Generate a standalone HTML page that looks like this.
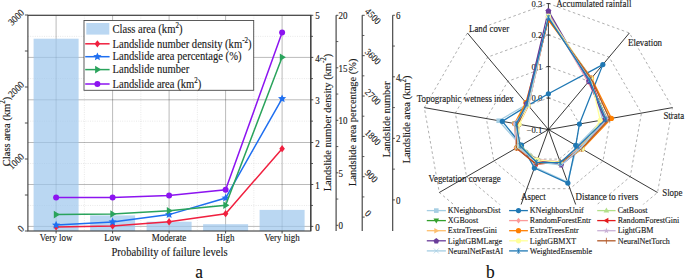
<!DOCTYPE html>
<html><head><meta charset="utf-8"><style>
html,body{margin:0;padding:0;background:#fff;}
body{width:685px;height:278px;overflow:hidden;}
svg{display:block;font-family:"Liberation Serif", serif;}
</style></head><body>
<svg width="685" height="278" viewBox="0 0 685 278">
<rect x="0" y="0" width="685" height="278" fill="#fff"/>
<line x1="27.9" y1="226.40" x2="310.8" y2="226.40" stroke="rgba(0,0,0,0.27)" stroke-width="1"/>
<line x1="27.9" y1="184.50" x2="310.8" y2="184.50" stroke="rgba(0,0,0,0.27)" stroke-width="1"/>
<line x1="27.9" y1="142.50" x2="310.8" y2="142.50" stroke="rgba(0,0,0,0.27)" stroke-width="1"/>
<line x1="27.9" y1="99.80" x2="310.8" y2="99.80" stroke="rgba(0,0,0,0.27)" stroke-width="1"/>
<line x1="27.9" y1="57.40" x2="310.8" y2="57.40" stroke="rgba(0,0,0,0.27)" stroke-width="1"/>
<line x1="27.9" y1="15.30" x2="310.8" y2="15.30" stroke="rgba(0,0,0,0.27)" stroke-width="1"/>
<line x1="27.9" y1="205.45" x2="310.8" y2="205.45" stroke="rgba(0,0,0,0.12)" stroke-width="0.8" stroke-dasharray="1 1.3"/>
<line x1="27.9" y1="163.50" x2="310.8" y2="163.50" stroke="rgba(0,0,0,0.12)" stroke-width="0.8" stroke-dasharray="1 1.3"/>
<line x1="27.9" y1="121.15" x2="310.8" y2="121.15" stroke="rgba(0,0,0,0.12)" stroke-width="0.8" stroke-dasharray="1 1.3"/>
<line x1="27.9" y1="78.60" x2="310.8" y2="78.60" stroke="rgba(0,0,0,0.12)" stroke-width="0.8" stroke-dasharray="1 1.3"/>
<line x1="27.9" y1="36.35" x2="310.8" y2="36.35" stroke="rgba(0,0,0,0.12)" stroke-width="0.8" stroke-dasharray="1 1.3"/>
<line x1="56.1" y1="15.3" x2="56.1" y2="231.0" stroke="rgba(0,0,0,0.27)" stroke-width="1"/>
<line x1="112.6" y1="15.3" x2="112.6" y2="231.0" stroke="rgba(0,0,0,0.27)" stroke-width="1"/>
<line x1="169.1" y1="15.3" x2="169.1" y2="231.0" stroke="rgba(0,0,0,0.27)" stroke-width="1"/>
<line x1="225.6" y1="15.3" x2="225.6" y2="231.0" stroke="rgba(0,0,0,0.27)" stroke-width="1"/>
<line x1="282.1" y1="15.3" x2="282.1" y2="231.0" stroke="rgba(0,0,0,0.27)" stroke-width="1"/>
<line x1="84.35" y1="15.3" x2="84.35" y2="231.0" stroke="rgba(0,0,0,0.12)" stroke-width="0.8" stroke-dasharray="1 1.3"/>
<line x1="140.85" y1="15.3" x2="140.85" y2="231.0" stroke="rgba(0,0,0,0.12)" stroke-width="0.8" stroke-dasharray="1 1.3"/>
<line x1="197.35" y1="15.3" x2="197.35" y2="231.0" stroke="rgba(0,0,0,0.12)" stroke-width="0.8" stroke-dasharray="1 1.3"/>
<line x1="253.85" y1="15.3" x2="253.85" y2="231.0" stroke="rgba(0,0,0,0.12)" stroke-width="0.8" stroke-dasharray="1 1.3"/>
<rect x="33.60" y="38.7" width="45" height="192.30" fill="rgb(156,198,236)" fill-opacity="0.7"/>
<rect x="90.10" y="215.4" width="45" height="15.60" fill="rgb(156,198,236)" fill-opacity="0.7"/>
<rect x="146.60" y="221.7" width="45" height="9.30" fill="rgb(156,198,236)" fill-opacity="0.7"/>
<rect x="203.10" y="224.2" width="45" height="6.80" fill="rgb(156,198,236)" fill-opacity="0.7"/>
<rect x="259.60" y="209.9" width="45" height="21.10" fill="rgb(156,198,236)" fill-opacity="0.7"/>
<polyline points="56.10,227.00 112.60,225.90 169.10,221.80 225.60,213.70 282.10,148.70" fill="none" stroke="#f0203f" stroke-width="1.5"/>
<polygon points="56.10,223.40 58.91,227.00 56.10,230.60 53.29,227.00" fill="#f0203f"/>
<polygon points="112.60,222.30 115.41,225.90 112.60,229.50 109.79,225.90" fill="#f0203f"/>
<polygon points="169.10,218.20 171.91,221.80 169.10,225.40 166.29,221.80" fill="#f0203f"/>
<polygon points="225.60,210.10 228.41,213.70 225.60,217.30 222.79,213.70" fill="#f0203f"/>
<polygon points="282.10,145.10 284.91,148.70 282.10,152.30 279.29,148.70" fill="#f0203f"/>
<polyline points="56.10,225.10 112.60,221.90 169.10,214.60 225.60,198.00 282.10,98.70" fill="none" stroke="#1f6ff0" stroke-width="1.5"/>
<polygon points="56.10,220.80 57.28,223.48 60.19,223.77 58.00,225.72 58.63,228.58 56.10,227.10 53.57,228.58 54.20,225.72 52.01,223.77 54.92,223.48" fill="#1f6ff0"/>
<polygon points="112.60,217.60 113.78,220.28 116.69,220.57 114.50,222.52 115.13,225.38 112.60,223.90 110.07,225.38 110.70,222.52 108.51,220.57 111.42,220.28" fill="#1f6ff0"/>
<polygon points="169.10,210.30 170.28,212.98 173.19,213.27 171.00,215.22 171.63,218.08 169.10,216.60 166.57,218.08 167.20,215.22 165.01,213.27 167.92,212.98" fill="#1f6ff0"/>
<polygon points="225.60,193.70 226.78,196.38 229.69,196.67 227.50,198.62 228.13,201.48 225.60,200.00 223.07,201.48 223.70,198.62 221.51,196.67 224.42,196.38" fill="#1f6ff0"/>
<polygon points="282.10,94.40 283.28,97.08 286.19,97.37 284.00,99.32 284.63,102.18 282.10,100.70 279.57,102.18 280.20,99.32 278.01,97.37 280.92,97.08" fill="#1f6ff0"/>
<polyline points="56.10,214.60 112.60,214.00 169.10,210.80 225.60,205.20 282.10,57.30" fill="none" stroke="#2aa35c" stroke-width="1.5"/>
<polygon points="53.82,210.80 59.90,214.60 53.82,218.40" fill="#2aa35c"/>
<polygon points="110.32,210.20 116.40,214.00 110.32,217.80" fill="#2aa35c"/>
<polygon points="166.82,207.00 172.90,210.80 166.82,214.60" fill="#2aa35c"/>
<polygon points="223.32,201.40 229.40,205.20 223.32,209.00" fill="#2aa35c"/>
<polygon points="279.82,53.50 285.90,57.30 279.82,61.10" fill="#2aa35c"/>
<polyline points="56.10,197.60 112.60,197.50 169.10,195.40 225.60,189.80 282.10,32.50" fill="none" stroke="#8c14f0" stroke-width="1.5"/>
<circle cx="56.10" cy="197.60" r="3.00" fill="#8c14f0"/>
<circle cx="112.60" cy="197.50" r="3.00" fill="#8c14f0"/>
<circle cx="169.10" cy="195.40" r="3.00" fill="#8c14f0"/>
<circle cx="225.60" cy="189.80" r="3.00" fill="#8c14f0"/>
<circle cx="282.10" cy="32.50" r="3.00" fill="#8c14f0"/>
<rect x="27.9" y="15.3" width="282.90" height="215.70" fill="none" stroke="#3a3a3a" stroke-width="1.1"/>
<line x1="56.1" y1="231.0" x2="56.1" y2="233.5" stroke="#3a3a3a" stroke-width="0.9"/>
<text transform="translate(56.10 240.90) scale(1 1.08)" font-size="9" text-anchor="middle" fill="#1a1a1a" stroke="#1a1a1a" stroke-width="0.12">Very low</text>
<line x1="112.6" y1="231.0" x2="112.6" y2="233.5" stroke="#3a3a3a" stroke-width="0.9"/>
<text transform="translate(112.60 240.90) scale(1 1.08)" font-size="9" text-anchor="middle" fill="#1a1a1a" stroke="#1a1a1a" stroke-width="0.12">Low</text>
<line x1="169.1" y1="231.0" x2="169.1" y2="233.5" stroke="#3a3a3a" stroke-width="0.9"/>
<text transform="translate(169.10 240.90) scale(1 1.08)" font-size="9" text-anchor="middle" fill="#1a1a1a" stroke="#1a1a1a" stroke-width="0.12">Moderate</text>
<line x1="225.6" y1="231.0" x2="225.6" y2="233.5" stroke="#3a3a3a" stroke-width="0.9"/>
<text transform="translate(225.60 240.90) scale(1 1.08)" font-size="9" text-anchor="middle" fill="#1a1a1a" stroke="#1a1a1a" stroke-width="0.12">High</text>
<line x1="282.1" y1="231.0" x2="282.1" y2="233.5" stroke="#3a3a3a" stroke-width="0.9"/>
<text transform="translate(282.10 240.90) scale(1 1.08)" font-size="9" text-anchor="middle" fill="#1a1a1a" stroke="#1a1a1a" stroke-width="0.12">Very high</text>
<text transform="translate(169.50 256.00) scale(1 1.08)" font-size="10.6" text-anchor="middle" fill="#1a1a1a" stroke="#1a1a1a" stroke-width="0.12">Probability of failure levels</text>
<text transform="translate(199.20 277.60) scale(1 1.08)" font-size="17.4" text-anchor="middle" fill="#111" stroke="#111" stroke-width="0.12">a</text>
<line x1="24.9" y1="231.0" x2="27.9" y2="231.0" stroke="#3a3a3a" stroke-width="0.9"/>
<line x1="24.9" y1="195.0" x2="27.9" y2="195.0" stroke="#3a3a3a" stroke-width="0.9"/>
<line x1="24.9" y1="159.0" x2="27.9" y2="159.0" stroke="#3a3a3a" stroke-width="0.9"/>
<line x1="24.9" y1="123.0" x2="27.9" y2="123.0" stroke="#3a3a3a" stroke-width="0.9"/>
<line x1="24.9" y1="87.0" x2="27.9" y2="87.0" stroke="#3a3a3a" stroke-width="0.9"/>
<line x1="24.9" y1="51.0" x2="27.9" y2="51.0" stroke="#3a3a3a" stroke-width="0.9"/>
<line x1="24.9" y1="15.0" x2="27.9" y2="15.0" stroke="#3a3a3a" stroke-width="0.9"/>
<text transform="translate(24.80 229.40) rotate(-45) scale(1 1.08)" font-size="9" text-anchor="end" fill="#1a1a1a" stroke="#1a1a1a" stroke-width="0.12">0</text>
<text transform="translate(24.80 157.40) rotate(-45) scale(1 1.08)" font-size="9" text-anchor="end" fill="#1a1a1a" stroke="#1a1a1a" stroke-width="0.12">1000</text>
<text transform="translate(24.80 85.40) rotate(-45) scale(1 1.08)" font-size="9" text-anchor="end" fill="#1a1a1a" stroke="#1a1a1a" stroke-width="0.12">2000</text>
<text transform="translate(24.80 13.40) rotate(-45) scale(1 1.08)" font-size="9" text-anchor="end" fill="#1a1a1a" stroke="#1a1a1a" stroke-width="0.12">3000</text>
<text transform="translate(9.50 131.50) rotate(-90) scale(1 1.08)" font-size="10.5" text-anchor="middle" fill="#1a1a1a" stroke="#1a1a1a" stroke-width="0.12">Class area (km<tspan font-size="7" dy="-4">2</tspan><tspan dy="4">)</tspan></text>
<line x1="310.8" y1="15.3" x2="310.8" y2="231.0" stroke="#3a3a3a" stroke-width="1.1"/>
<line x1="310.8" y1="226.40" x2="313.3" y2="226.40" stroke="#3a3a3a" stroke-width="0.9"/>
<line x1="310.8" y1="184.50" x2="313.3" y2="184.50" stroke="#3a3a3a" stroke-width="0.9"/>
<line x1="310.8" y1="142.50" x2="313.3" y2="142.50" stroke="#3a3a3a" stroke-width="0.9"/>
<line x1="310.8" y1="99.80" x2="313.3" y2="99.80" stroke="#3a3a3a" stroke-width="0.9"/>
<line x1="310.8" y1="57.40" x2="313.3" y2="57.40" stroke="#3a3a3a" stroke-width="0.9"/>
<line x1="310.8" y1="15.30" x2="313.3" y2="15.30" stroke="#3a3a3a" stroke-width="0.9"/>
<line x1="310.8" y1="205.45" x2="313.0" y2="205.45" stroke="#3a3a3a" stroke-width="0.8"/>
<line x1="310.8" y1="163.50" x2="313.0" y2="163.50" stroke="#3a3a3a" stroke-width="0.8"/>
<line x1="310.8" y1="121.15" x2="313.0" y2="121.15" stroke="#3a3a3a" stroke-width="0.8"/>
<line x1="310.8" y1="78.60" x2="313.0" y2="78.60" stroke="#3a3a3a" stroke-width="0.8"/>
<line x1="310.8" y1="36.35" x2="313.0" y2="36.35" stroke="#3a3a3a" stroke-width="0.8"/>
<text transform="translate(315.30 230.50) scale(1 1.08)" font-size="9" text-anchor="start" fill="#1a1a1a" stroke="#1a1a1a" stroke-width="0.12">0</text>
<text transform="translate(315.30 188.60) scale(1 1.08)" font-size="9" text-anchor="start" fill="#1a1a1a" stroke="#1a1a1a" stroke-width="0.12">1</text>
<text transform="translate(315.30 146.60) scale(1 1.08)" font-size="9" text-anchor="start" fill="#1a1a1a" stroke="#1a1a1a" stroke-width="0.12">2</text>
<text transform="translate(315.30 103.90) scale(1 1.08)" font-size="9" text-anchor="start" fill="#1a1a1a" stroke="#1a1a1a" stroke-width="0.12">3</text>
<text transform="translate(315.30 61.50) scale(1 1.08)" font-size="9" text-anchor="start" fill="#1a1a1a" stroke="#1a1a1a" stroke-width="0.12">4</text>
<text transform="translate(315.30 19.40) scale(1 1.08)" font-size="9" text-anchor="start" fill="#1a1a1a" stroke="#1a1a1a" stroke-width="0.12">5</text>
<line x1="336.1" y1="15.3" x2="336.1" y2="231.0" stroke="#3a3a3a" stroke-width="1.1"/>
<line x1="336.1" y1="225.30" x2="338.3" y2="225.30" stroke="#3a3a3a" stroke-width="0.9"/>
<line x1="336.1" y1="172.80" x2="338.3" y2="172.80" stroke="#3a3a3a" stroke-width="0.9"/>
<line x1="336.1" y1="120.30" x2="338.3" y2="120.30" stroke="#3a3a3a" stroke-width="0.9"/>
<line x1="336.1" y1="67.80" x2="338.3" y2="67.80" stroke="#3a3a3a" stroke-width="0.9"/>
<line x1="336.1" y1="15.30" x2="338.3" y2="15.30" stroke="#3a3a3a" stroke-width="0.9"/>
<line x1="336.1" y1="199.05" x2="338.3" y2="199.05" stroke="#3a3a3a" stroke-width="0.8"/>
<line x1="336.1" y1="146.55" x2="338.3" y2="146.55" stroke="#3a3a3a" stroke-width="0.8"/>
<line x1="336.1" y1="94.05" x2="338.3" y2="94.05" stroke="#3a3a3a" stroke-width="0.8"/>
<line x1="336.1" y1="41.55" x2="338.3" y2="41.55" stroke="#3a3a3a" stroke-width="0.8"/>
<text transform="translate(338.50 229.40) scale(1 1.08)" font-size="9" text-anchor="start" fill="#1a1a1a" stroke="#1a1a1a" stroke-width="0.12">0</text>
<text transform="translate(338.50 176.90) scale(1 1.08)" font-size="9" text-anchor="start" fill="#1a1a1a" stroke="#1a1a1a" stroke-width="0.12">5</text>
<text transform="translate(338.50 124.40) scale(1 1.08)" font-size="9" text-anchor="start" fill="#1a1a1a" stroke="#1a1a1a" stroke-width="0.12">10</text>
<text transform="translate(338.50 71.90) scale(1 1.08)" font-size="9" text-anchor="start" fill="#1a1a1a" stroke="#1a1a1a" stroke-width="0.12">15</text>
<text transform="translate(338.50 19.40) scale(1 1.08)" font-size="9" text-anchor="start" fill="#1a1a1a" stroke="#1a1a1a" stroke-width="0.12">20</text>
<line x1="362.2" y1="15.3" x2="362.2" y2="231.0" stroke="#3a3a3a" stroke-width="1.1"/>
<line x1="362.2" y1="217.10" x2="364.7" y2="217.10" stroke="#3a3a3a" stroke-width="0.9"/>
<line x1="362.2" y1="176.74" x2="364.7" y2="176.74" stroke="#3a3a3a" stroke-width="0.9"/>
<line x1="362.2" y1="136.38" x2="364.7" y2="136.38" stroke="#3a3a3a" stroke-width="0.9"/>
<line x1="362.2" y1="96.02" x2="364.7" y2="96.02" stroke="#3a3a3a" stroke-width="0.9"/>
<line x1="362.2" y1="55.66" x2="364.7" y2="55.66" stroke="#3a3a3a" stroke-width="0.9"/>
<line x1="362.2" y1="15.30" x2="364.7" y2="15.30" stroke="#3a3a3a" stroke-width="0.9"/>
<line x1="362.2" y1="196.92" x2="364.4" y2="196.92" stroke="#3a3a3a" stroke-width="0.8"/>
<line x1="362.2" y1="156.56" x2="364.4" y2="156.56" stroke="#3a3a3a" stroke-width="0.8"/>
<line x1="362.2" y1="116.20" x2="364.4" y2="116.20" stroke="#3a3a3a" stroke-width="0.8"/>
<line x1="362.2" y1="75.84" x2="364.4" y2="75.84" stroke="#3a3a3a" stroke-width="0.8"/>
<line x1="362.2" y1="35.48" x2="364.4" y2="35.48" stroke="#3a3a3a" stroke-width="0.8"/>
<text transform="translate(364.30 213.90) rotate(45) scale(1 1.08)" font-size="9" text-anchor="start" fill="#1a1a1a" stroke="#1a1a1a" stroke-width="0.12">0</text>
<text transform="translate(364.30 173.54) rotate(45) scale(1 1.08)" font-size="9" text-anchor="start" fill="#1a1a1a" stroke="#1a1a1a" stroke-width="0.12">900</text>
<text transform="translate(364.30 133.18) rotate(45) scale(1 1.08)" font-size="9" text-anchor="start" fill="#1a1a1a" stroke="#1a1a1a" stroke-width="0.12">1800</text>
<text transform="translate(364.30 92.82) rotate(45) scale(1 1.08)" font-size="9" text-anchor="start" fill="#1a1a1a" stroke="#1a1a1a" stroke-width="0.12">2700</text>
<text transform="translate(364.30 52.46) rotate(45) scale(1 1.08)" font-size="9" text-anchor="start" fill="#1a1a1a" stroke="#1a1a1a" stroke-width="0.12">3600</text>
<text transform="translate(364.30 12.10) rotate(45) scale(1 1.08)" font-size="9" text-anchor="start" fill="#1a1a1a" stroke="#1a1a1a" stroke-width="0.12">4500</text>
<line x1="392.7" y1="15.3" x2="392.7" y2="231.0" stroke="#3a3a3a" stroke-width="1.1"/>
<line x1="392.7" y1="199.90" x2="394.9" y2="199.90" stroke="#3a3a3a" stroke-width="0.9"/>
<line x1="392.7" y1="138.36" x2="394.9" y2="138.36" stroke="#3a3a3a" stroke-width="0.9"/>
<line x1="392.7" y1="76.82" x2="394.9" y2="76.82" stroke="#3a3a3a" stroke-width="0.9"/>
<line x1="392.7" y1="15.28" x2="394.9" y2="15.28" stroke="#3a3a3a" stroke-width="0.9"/>
<line x1="392.7" y1="169.13" x2="394.9" y2="169.13" stroke="#3a3a3a" stroke-width="0.8"/>
<line x1="392.7" y1="107.59" x2="394.9" y2="107.59" stroke="#3a3a3a" stroke-width="0.8"/>
<line x1="392.7" y1="46.05" x2="394.9" y2="46.05" stroke="#3a3a3a" stroke-width="0.8"/>
<text transform="translate(396.00 204.00) scale(1 1.08)" font-size="9" text-anchor="start" fill="#1a1a1a" stroke="#1a1a1a" stroke-width="0.12">0</text>
<text transform="translate(396.00 142.46) scale(1 1.08)" font-size="9" text-anchor="start" fill="#1a1a1a" stroke="#1a1a1a" stroke-width="0.12">2</text>
<text transform="translate(396.00 80.92) scale(1 1.08)" font-size="9" text-anchor="start" fill="#1a1a1a" stroke="#1a1a1a" stroke-width="0.12">4</text>
<text transform="translate(396.00 19.38) scale(1 1.08)" font-size="9" text-anchor="start" fill="#1a1a1a" stroke="#1a1a1a" stroke-width="0.12">6</text>
<text transform="translate(330.50 122.50) rotate(-90) scale(1 1.08)" font-size="10.5" text-anchor="middle" fill="#1a1a1a" stroke="#1a1a1a" stroke-width="0.12">Landslide number density (km<tspan font-size="7" dy="-4">-2</tspan><tspan dy="4">)</tspan></text>
<text transform="translate(356.40 122.30) rotate(-90) scale(1 1.08)" font-size="10.5" text-anchor="middle" fill="#1a1a1a" stroke="#1a1a1a" stroke-width="0.12">Landslide area percentage (%)</text>
<text transform="translate(389.60 119.50) rotate(-90) scale(1 1.08)" font-size="10.5" text-anchor="middle" fill="#1a1a1a" stroke="#1a1a1a" stroke-width="0.12">Landslide number</text>
<text transform="translate(410.30 119.50) rotate(-90) scale(1 1.08)" font-size="10.5" text-anchor="middle" fill="#1a1a1a" stroke="#1a1a1a" stroke-width="0.12">Landslide area (km<tspan font-size="7" dy="-4">2</tspan><tspan dy="4">)</tspan></text>
<rect x="84" y="20.5" width="169.7" height="69.8" fill="#fff" stroke="#4a4a4a" stroke-width="0.9"/>
<rect x="86.3" y="23" width="23" height="11.6" fill="#bad7f2"/>
<text transform="translate(112.50 32.50) scale(1 1.08)" font-size="10.6" text-anchor="start" fill="#1a1a1a" stroke="#1a1a1a" stroke-width="0.12">Class area (km<tspan font-size="7" dy="-4">2</tspan><tspan dy="4">)</tspan></text>
<line x1="85.2" y1="43.8" x2="109.6" y2="43.8" stroke="#f0203f" stroke-width="1.5"/>
<polygon points="97.40,40.20 100.21,43.80 97.40,47.40 94.59,43.80" fill="#f0203f"/>
<text transform="translate(112.50 47.50) scale(1 1.08)" font-size="10.6" text-anchor="start" fill="#1a1a1a" stroke="#1a1a1a" stroke-width="0.12">Landslide number density (km<tspan font-size="7" dy="-4">-2</tspan><tspan dy="4">)</tspan></text>
<line x1="85.2" y1="56.7" x2="109.6" y2="56.7" stroke="#1f6ff0" stroke-width="1.5"/>
<polygon points="97.40,52.40 98.58,55.08 101.49,55.37 99.30,57.32 99.93,60.18 97.40,58.70 94.87,60.18 95.50,57.32 93.31,55.37 96.22,55.08" fill="#1f6ff0"/>
<text transform="translate(112.50 60.40) scale(1 1.08)" font-size="10.6" text-anchor="start" fill="#1a1a1a" stroke="#1a1a1a" stroke-width="0.12">Landslide area percentage (%)</text>
<line x1="85.2" y1="69.6" x2="109.6" y2="69.6" stroke="#2aa35c" stroke-width="1.5"/>
<polygon points="95.12,65.80 101.20,69.60 95.12,73.40" fill="#2aa35c"/>
<text transform="translate(112.50 73.30) scale(1 1.08)" font-size="10.6" text-anchor="start" fill="#1a1a1a" stroke="#1a1a1a" stroke-width="0.12">Landslide number</text>
<line x1="85.2" y1="84.0" x2="109.6" y2="84.0" stroke="#8c14f0" stroke-width="1.5"/>
<circle cx="97.40" cy="84.00" r="3.00" fill="#8c14f0"/>
<text transform="translate(112.50 87.70) scale(1 1.08)" font-size="10.6" text-anchor="start" fill="#1a1a1a" stroke="#1a1a1a" stroke-width="0.12">Landslide area (km<tspan font-size="7" dy="-4">2</tspan><tspan dy="4">)</tspan></text>
<polyline points="548.40,98.00 568.65,105.37 579.42,124.03 575.68,145.25 559.17,159.10 537.63,159.10 521.12,145.25 517.38,124.03 528.15,105.37 548.40,98.00" fill="none" stroke="#9a9a9a" stroke-width="0.8" stroke-dasharray="2.6 2.6"/>
<polyline points="548.40,66.50 588.90,81.24 610.44,118.56 602.96,161.00 569.95,188.70 526.85,188.70 493.84,161.00 486.36,118.56 507.90,81.24 548.40,66.50" fill="none" stroke="#9a9a9a" stroke-width="0.8" stroke-dasharray="2.6 2.6"/>
<polyline points="548.40,35.00 609.14,57.11 641.46,113.09 630.24,176.75 580.72,218.30 516.08,218.30 466.56,176.75 455.34,113.09 487.66,57.11 548.40,35.00" fill="none" stroke="#9a9a9a" stroke-width="0.8" stroke-dasharray="2.6 2.6"/>
<polyline points="548.40,3.50 629.39,32.98 672.49,107.62 657.52,192.50 591.49,247.90 505.31,247.90 439.28,192.50 424.31,107.62 467.41,32.98 548.40,3.50" fill="none" stroke="#9a9a9a" stroke-width="0.8" stroke-dasharray="2.6 2.6"/>
<line x1="548.4" y1="129.5" x2="548.40" y2="3.50" stroke="#222" stroke-width="0.9"/>
<line x1="548.4" y1="129.5" x2="629.39" y2="32.98" stroke="#222" stroke-width="0.9"/>
<line x1="548.4" y1="129.5" x2="672.49" y2="107.62" stroke="#222" stroke-width="0.9"/>
<line x1="548.4" y1="129.5" x2="657.52" y2="192.50" stroke="#222" stroke-width="0.9"/>
<line x1="548.4" y1="129.5" x2="591.49" y2="247.90" stroke="#222" stroke-width="0.9"/>
<line x1="548.4" y1="129.5" x2="505.31" y2="247.90" stroke="#222" stroke-width="0.9"/>
<line x1="548.4" y1="129.5" x2="439.28" y2="192.50" stroke="#222" stroke-width="0.9"/>
<line x1="548.4" y1="129.5" x2="424.31" y2="107.62" stroke="#222" stroke-width="0.9"/>
<line x1="548.4" y1="129.5" x2="467.41" y2="32.98" stroke="#222" stroke-width="0.9"/>
<line x1="546.4" y1="129.50" x2="550.4" y2="129.50" stroke="#222" stroke-width="0.8"/>
<text transform="translate(542.30 132.50) scale(1 1.03)" font-size="8.6" text-anchor="end" fill="#1a1a1a" stroke="#1a1a1a" stroke-width="0.12">&#8722;0.1</text>
<line x1="546.4" y1="98.00" x2="550.4" y2="98.00" stroke="#222" stroke-width="0.8"/>
<text transform="translate(542.30 101.00) scale(1 1.03)" font-size="8.6" text-anchor="end" fill="#1a1a1a" stroke="#1a1a1a" stroke-width="0.12">0.0</text>
<line x1="546.4" y1="66.50" x2="550.4" y2="66.50" stroke="#222" stroke-width="0.8"/>
<text transform="translate(542.30 69.50) scale(1 1.03)" font-size="8.6" text-anchor="end" fill="#1a1a1a" stroke="#1a1a1a" stroke-width="0.12">0.1</text>
<line x1="546.4" y1="35.00" x2="550.4" y2="35.00" stroke="#222" stroke-width="0.8"/>
<text transform="translate(542.30 38.00) scale(1 1.03)" font-size="8.6" text-anchor="end" fill="#1a1a1a" stroke="#1a1a1a" stroke-width="0.12">0.2</text>
<line x1="546.4" y1="3.50" x2="550.4" y2="3.50" stroke="#222" stroke-width="0.8"/>
<text transform="translate(542.30 6.50) scale(1 1.03)" font-size="8.6" text-anchor="end" fill="#1a1a1a" stroke="#1a1a1a" stroke-width="0.12">0.3</text>
<polyline points="548.40,18.50 591.47,78.18 602.56,119.95 576.98,146.00 567.55,182.12 534.72,167.09 520.69,145.50 498.67,120.73 527.19,104.22 548.40,18.50" fill="none" stroke="#a6cee3" stroke-width="1.3" stroke-linejoin="round"/>
<rect x="546.10" y="16.20" width="4.6" height="4.6" fill="#a6cee3"/>
<rect x="589.17" y="75.88" width="4.6" height="4.6" fill="#a6cee3"/>
<rect x="600.26" y="117.65" width="4.6" height="4.6" fill="#a6cee3"/>
<rect x="574.68" y="143.70" width="4.6" height="4.6" fill="#a6cee3"/>
<rect x="565.25" y="179.82" width="4.6" height="4.6" fill="#a6cee3"/>
<rect x="532.42" y="164.79" width="4.6" height="4.6" fill="#a6cee3"/>
<rect x="518.39" y="143.20" width="4.6" height="4.6" fill="#a6cee3"/>
<rect x="496.37" y="118.43" width="4.6" height="4.6" fill="#a6cee3"/>
<rect x="524.89" y="101.92" width="4.6" height="4.6" fill="#a6cee3"/>
<polyline points="548.40,93.80 602.84,64.62 579.42,124.03 575.77,145.30 567.90,183.06 534.38,168.03 521.55,145.00 502.31,121.37 528.15,105.37 548.40,93.80" fill="none" stroke="#1f78b4" stroke-width="1.3" stroke-linejoin="round"/>
<circle cx="548.40" cy="93.80" r="2.6" fill="#1f78b4"/>
<circle cx="602.84" cy="64.62" r="2.6" fill="#1f78b4"/>
<circle cx="579.42" cy="124.03" r="2.6" fill="#1f78b4"/>
<circle cx="575.77" cy="145.30" r="2.6" fill="#1f78b4"/>
<circle cx="567.90" cy="183.06" r="2.6" fill="#1f78b4"/>
<circle cx="534.38" cy="168.03" r="2.6" fill="#1f78b4"/>
<circle cx="521.55" cy="145.00" r="2.6" fill="#1f78b4"/>
<circle cx="502.31" cy="121.37" r="2.6" fill="#1f78b4"/>
<circle cx="528.15" cy="105.37" r="2.6" fill="#1f78b4"/>
<polyline points="548.40,16.83 589.68,80.30 604.88,119.54 580.46,148.01 560.79,163.54 537.34,159.88 520.20,145.78 515.22,123.65 527.96,105.14 548.40,16.83" fill="none" stroke="#b2df8a" stroke-width="1.3" stroke-linejoin="round"/>
<polygon points="548.40,13.83 551.20,18.83 545.60,18.83" fill="#b2df8a"/>
<polygon points="589.68,77.30 592.48,82.30 586.88,82.30" fill="#b2df8a"/>
<polygon points="604.88,116.54 607.68,121.54 602.08,121.54" fill="#b2df8a"/>
<polygon points="580.46,145.01 583.26,150.01 577.66,150.01" fill="#b2df8a"/>
<polygon points="560.79,160.54 563.59,165.54 557.99,165.54" fill="#b2df8a"/>
<polygon points="537.34,156.88 540.14,161.88 534.54,161.88" fill="#b2df8a"/>
<polygon points="520.20,142.78 523.00,147.78 517.40,147.78" fill="#b2df8a"/>
<polygon points="515.22,120.65 518.02,125.65 512.42,125.65" fill="#b2df8a"/>
<polygon points="527.96,102.14 530.76,107.14 525.16,107.14" fill="#b2df8a"/>
<polyline points="548.40,14.29 589.44,80.59 607.18,119.14 579.91,147.69 560.81,163.61 537.20,160.28 517.51,147.34 515.07,123.62 527.11,104.13 548.40,14.29" fill="none" stroke="#33a02c" stroke-width="1.3" stroke-linejoin="round"/>
<polygon points="548.40,17.29 551.20,12.29 545.60,12.29" fill="#33a02c"/>
<polygon points="589.44,83.59 592.24,78.59 586.64,78.59" fill="#33a02c"/>
<polygon points="607.18,122.14 609.98,117.14 604.38,117.14" fill="#33a02c"/>
<polygon points="579.91,150.69 582.71,145.69 577.11,145.69" fill="#33a02c"/>
<polygon points="560.81,166.61 563.61,161.61 558.01,161.61" fill="#33a02c"/>
<polygon points="537.20,163.28 540.00,158.28 534.40,158.28" fill="#33a02c"/>
<polygon points="517.51,150.34 520.31,145.34 514.71,145.34" fill="#33a02c"/>
<polygon points="515.07,126.62 517.87,121.62 512.27,121.62" fill="#33a02c"/>
<polygon points="527.11,107.13 529.91,102.13 524.31,102.13" fill="#33a02c"/>
<polyline points="548.40,13.61 588.14,82.14 606.79,119.20 580.40,147.98 560.24,162.02 537.40,159.72 516.51,147.91 517.02,123.97 526.48,103.38 548.40,13.61" fill="none" stroke="#fb9a99" stroke-width="1.3" stroke-linejoin="round"/>
<polygon points="548.40,10.81 550.60,13.61 548.40,16.41 546.20,13.61" fill="#fb9a99"/>
<polygon points="588.14,79.34 590.34,82.14 588.14,84.94 585.94,82.14" fill="#fb9a99"/>
<polygon points="606.79,116.40 608.99,119.20 606.79,122.00 604.59,119.20" fill="#fb9a99"/>
<polygon points="580.40,145.18 582.60,147.98 580.40,150.78 578.20,147.98" fill="#fb9a99"/>
<polygon points="560.24,159.22 562.44,162.02 560.24,164.82 558.04,162.02" fill="#fb9a99"/>
<polygon points="537.40,156.92 539.60,159.72 537.40,162.52 535.20,159.72" fill="#fb9a99"/>
<polygon points="516.51,145.11 518.71,147.91 516.51,150.71 514.31,147.91" fill="#fb9a99"/>
<polygon points="517.02,121.17 519.22,123.97 517.02,126.77 514.82,123.97" fill="#fb9a99"/>
<polygon points="526.48,100.58 528.68,103.38 526.48,106.18 524.28,103.38" fill="#fb9a99"/>
<polyline points="548.40,16.92 590.89,78.86 605.00,119.52 581.31,148.50 560.48,162.69 535.86,163.97 516.45,147.95 518.87,124.29 528.36,105.61 548.40,16.92" fill="none" stroke="#e31a1c" stroke-width="1.3" stroke-linejoin="round"/>
<polygon points="545.40,16.92 550.40,14.12 550.40,19.72" fill="#e31a1c"/>
<polygon points="587.89,78.86 592.89,76.06 592.89,81.66" fill="#e31a1c"/>
<polygon points="602.00,119.52 607.00,116.72 607.00,122.32" fill="#e31a1c"/>
<polygon points="578.31,148.50 583.31,145.70 583.31,151.30" fill="#e31a1c"/>
<polygon points="557.48,162.69 562.48,159.89 562.48,165.49" fill="#e31a1c"/>
<polygon points="532.86,163.97 537.86,161.17 537.86,166.77" fill="#e31a1c"/>
<polygon points="513.45,147.95 518.45,145.15 518.45,150.75" fill="#e31a1c"/>
<polygon points="515.87,124.29 520.87,121.49 520.87,127.09" fill="#e31a1c"/>
<polygon points="525.36,105.61 530.36,102.81 530.36,108.41" fill="#e31a1c"/>
<polyline points="548.40,13.48 589.33,80.72 606.14,119.32 579.15,147.25 560.59,162.99 536.80,161.38 518.73,146.63 516.47,123.87 526.92,103.90 548.40,13.48" fill="none" stroke="#fdbf6f" stroke-width="1.3" stroke-linejoin="round"/>
<polygon points="551.40,13.48 546.40,10.68 546.40,16.28" fill="#fdbf6f"/>
<polygon points="592.33,80.72 587.33,77.92 587.33,83.52" fill="#fdbf6f"/>
<polygon points="609.14,119.32 604.14,116.52 604.14,122.12" fill="#fdbf6f"/>
<polygon points="582.15,147.25 577.15,144.45 577.15,150.05" fill="#fdbf6f"/>
<polygon points="563.59,162.99 558.59,160.19 558.59,165.79" fill="#fdbf6f"/>
<polygon points="539.80,161.38 534.80,158.58 534.80,164.18" fill="#fdbf6f"/>
<polygon points="521.73,146.63 516.73,143.83 516.73,149.43" fill="#fdbf6f"/>
<polygon points="519.47,123.87 514.47,121.07 514.47,126.67" fill="#fdbf6f"/>
<polygon points="529.92,103.90 524.92,101.10 524.92,106.70" fill="#fdbf6f"/>
<polyline points="548.40,20.00 591.47,78.18 611.43,118.39 582.14,148.98 560.87,163.76 537.18,160.34 516.53,147.90 514.60,123.54 525.89,102.67 548.40,20.00" fill="none" stroke="#ff7f00" stroke-width="1.3" stroke-linejoin="round"/>
<circle cx="548.40" cy="20.00" r="2.6" fill="#ff7f00"/>
<circle cx="591.47" cy="78.18" r="2.6" fill="#ff7f00"/>
<circle cx="611.43" cy="118.39" r="2.6" fill="#ff7f00"/>
<circle cx="582.14" cy="148.98" r="2.6" fill="#ff7f00"/>
<circle cx="560.87" cy="163.76" r="2.6" fill="#ff7f00"/>
<circle cx="537.18" cy="160.34" r="2.6" fill="#ff7f00"/>
<circle cx="516.53" cy="147.90" r="2.6" fill="#ff7f00"/>
<circle cx="514.60" cy="123.54" r="2.6" fill="#ff7f00"/>
<circle cx="525.89" cy="102.67" r="2.6" fill="#ff7f00"/>
<polyline points="548.40,14.00 588.61,81.58 607.15,119.14 580.33,147.93 560.21,161.94 537.35,159.87 516.56,147.88 514.47,123.52 528.51,105.80 548.40,14.00" fill="none" stroke="#cab2d6" stroke-width="1.3" stroke-linejoin="round"/>
<polygon points="548.40,10.80 549.16,12.95 551.44,13.01 549.64,14.40 550.28,16.59 548.40,15.30 546.52,16.59 547.16,14.40 545.36,13.01 547.64,12.95" fill="#cab2d6"/>
<polygon points="588.61,78.38 589.37,80.53 591.65,80.59 589.85,81.98 590.49,84.17 588.61,82.88 586.73,84.17 587.37,81.98 585.57,80.59 587.85,80.53" fill="#cab2d6"/>
<polygon points="607.15,115.94 607.92,118.09 610.20,118.15 608.39,119.54 609.03,121.73 607.15,120.44 605.27,121.73 605.92,119.54 604.11,118.15 606.39,118.09" fill="#cab2d6"/>
<polygon points="580.33,144.73 581.09,146.88 583.37,146.94 581.56,148.34 582.21,150.52 580.33,149.23 578.45,150.52 579.09,148.34 577.28,146.94 579.56,146.88" fill="#cab2d6"/>
<polygon points="560.21,158.74 560.97,160.89 563.25,160.95 561.44,162.34 562.09,164.53 560.21,163.24 558.33,164.53 558.97,162.34 557.16,160.95 559.44,160.89" fill="#cab2d6"/>
<polygon points="537.35,156.67 538.11,158.82 540.39,158.88 538.58,160.27 539.23,162.46 537.35,161.17 535.47,162.46 536.11,160.27 534.30,158.88 536.58,158.82" fill="#cab2d6"/>
<polygon points="516.56,144.68 517.32,146.83 519.60,146.90 517.79,148.29 518.44,150.47 516.56,149.18 514.68,150.47 515.32,148.29 513.51,146.90 515.79,146.83" fill="#cab2d6"/>
<polygon points="514.47,120.32 515.24,122.47 517.52,122.53 515.71,123.92 516.36,126.11 514.47,124.82 512.59,126.11 513.24,123.92 511.43,122.53 513.71,122.47" fill="#cab2d6"/>
<polygon points="528.51,102.60 529.27,104.74 531.55,104.81 529.75,106.20 530.39,108.39 528.51,107.10 526.63,108.39 527.27,106.20 525.47,104.81 527.75,104.74" fill="#cab2d6"/>
<polyline points="548.40,10.80 588.90,81.24 604.50,119.61 581.17,148.42 561.21,164.70 537.38,159.78 517.59,147.29 518.86,124.29 526.49,103.38 548.40,10.80" fill="none" stroke="#6a3d9a" stroke-width="1.3" stroke-linejoin="round"/>
<polygon points="548.40,8.10 551.25,10.17 550.16,13.53 546.64,13.53 545.55,10.17" fill="#6a3d9a"/>
<polygon points="588.90,78.54 591.75,80.61 590.66,83.97 587.13,83.97 586.04,80.61" fill="#6a3d9a"/>
<polygon points="604.50,116.91 607.36,118.98 606.27,122.33 602.74,122.33 601.65,118.98" fill="#6a3d9a"/>
<polygon points="581.17,145.72 584.03,147.79 582.94,151.15 579.41,151.15 578.32,147.79" fill="#6a3d9a"/>
<polygon points="561.21,162.00 564.07,164.08 562.98,167.43 559.45,167.43 558.36,164.08" fill="#6a3d9a"/>
<polygon points="537.38,157.08 540.23,159.15 539.14,162.50 535.62,162.50 534.53,159.15" fill="#6a3d9a"/>
<polygon points="517.59,144.59 520.45,146.66 519.36,150.01 515.83,150.01 514.74,146.66" fill="#6a3d9a"/>
<polygon points="518.86,121.59 521.71,123.66 520.62,127.02 517.09,127.02 516.00,123.66" fill="#6a3d9a"/>
<polygon points="526.49,100.68 529.34,102.76 528.25,106.11 524.72,106.11 523.63,102.76" fill="#6a3d9a"/>
<polyline points="548.40,15.96 591.08,78.63 600.20,120.37 582.17,149.00 560.25,162.06 537.32,159.93 517.66,147.25 519.19,124.35 528.16,105.38 548.40,15.96" fill="none" stroke="#ffff99" stroke-width="1.3" stroke-linejoin="round"/>
<circle cx="548.40" cy="15.96" r="2.6" fill="#ffff99"/>
<circle cx="591.08" cy="78.63" r="2.6" fill="#ffff99"/>
<circle cx="600.20" cy="120.37" r="2.6" fill="#ffff99"/>
<circle cx="582.17" cy="149.00" r="2.6" fill="#ffff99"/>
<circle cx="560.25" cy="162.06" r="2.6" fill="#ffff99"/>
<circle cx="537.32" cy="159.93" r="2.6" fill="#ffff99"/>
<circle cx="517.66" cy="147.25" r="2.6" fill="#ffff99"/>
<circle cx="519.19" cy="124.35" r="2.6" fill="#ffff99"/>
<circle cx="528.16" cy="105.38" r="2.6" fill="#ffff99"/>
<polyline points="548.40,18.50 591.15,78.56 609.46,118.73 581.60,148.67 560.26,162.08 535.82,164.07 516.37,147.99 517.49,124.05 527.32,104.37 548.40,18.50" fill="none" stroke="#b15928" stroke-width="1.3" stroke-linejoin="round"/>
<line x1="548.4" y1="15.5" x2="548.4" y2="21.5" stroke="#b15928" stroke-width="0.8"/>
<line x1="591.1453760441549" y1="75.55804453258796" x2="591.1453760441549" y2="81.55804453258796" stroke="#b15928" stroke-width="0.8"/>
<line x1="609.4580806867568" y1="115.73381298465031" x2="609.4580806867568" y2="121.73381298465031" stroke="#b15928" stroke-width="0.8"/>
<line x1="581.6024571699355" y1="145.6694475848193" x2="581.6024571699355" y2="151.6694475848193" stroke="#b15928" stroke-width="0.8"/>
<line x1="560.257548541088" y1="159.07834686672635" x2="560.257548541088" y2="165.07834686672635" stroke="#b15928" stroke-width="0.8"/>
<line x1="535.815951241475" y1="161.07438980936345" x2="535.815951241475" y2="167.07438980936345" stroke="#b15928" stroke-width="0.8"/>
<line x1="516.371524236883" y1="144.991649103569" x2="516.371524236883" y2="150.991649103569" stroke="#b15928" stroke-width="0.8"/>
<line x1="517.4879224262513" y1="121.04936669399505" x2="517.4879224262513" y2="127.04936669399505" stroke="#b15928" stroke-width="0.8"/>
<line x1="527.3152498676922" y1="101.3721732808709" x2="527.3152498676922" y2="107.3721732808709" stroke="#b15928" stroke-width="0.8"/>
<polyline points="548.40,16.49 589.85,80.11 605.81,119.38 580.53,148.05 561.33,165.02 536.59,161.95 518.39,146.83 515.80,123.75 528.03,105.23 548.40,16.49" fill="none" stroke="#a6cee3" stroke-width="1.3" stroke-linejoin="round"/>
<path d="M545.9,13.99456569412925L550.9,18.99456569412925M545.9,18.99456569412925L550.9,13.99456569412925" stroke="#a6cee3" stroke-width="0.7"/>
<path d="M587.3458209604803,77.60679397233123L592.3458209604803,82.60679397233123M587.3458209604803,82.60679397233123L592.3458209604803,77.60679397233123" stroke="#a6cee3" stroke-width="0.7"/>
<path d="M603.3106534413305,116.87695281819015L608.3106534413305,121.87695281819015M603.3106534413305,121.87695281819015L608.3106534413305,116.87695281819015" stroke="#a6cee3" stroke-width="0.7"/>
<path d="M578.0300886629022,145.55031533861316L583.0300886629022,150.55031533861316M578.0300886629022,150.55031533861316L583.0300886629022,145.55031533861316" stroke="#a6cee3" stroke-width="0.7"/>
<path d="M558.829423827056,162.52330001139495L563.829423827056,167.52330001139495M558.829423827056,167.52330001139495L563.829423827056,162.52330001139495" stroke="#a6cee3" stroke-width="0.7"/>
<path d="M534.0882884922801,159.45241065257264L539.0882884922801,164.45241065257264M534.0882884922801,164.45241065257264L539.0882884922801,159.45241065257264" stroke="#a6cee3" stroke-width="0.7"/>
<path d="M515.8870601811634,144.32797888357732L520.8870601811634,149.32797888357732M515.8870601811634,149.32797888357732L520.8870601811634,144.32797888357732" stroke="#a6cee3" stroke-width="0.7"/>
<path d="M513.3013307576724,121.25197507738649L518.3013307576724,126.25197507738649M513.3013307576724,126.25197507738649L518.3013307576724,121.25197507738649" stroke="#a6cee3" stroke-width="0.7"/>
<path d="M525.5312317454998,102.7254472559805L530.5312317454998,107.7254472559805M525.5312317454998,107.7254472559805L530.5312317454998,102.7254472559805" stroke="#a6cee3" stroke-width="0.7"/>
<polyline points="548.40,17.70 589.61,80.39 605.76,119.39 577.89,146.53 560.43,162.55 536.46,162.30 520.17,145.80 516.32,123.84 526.76,103.71 548.40,17.70" fill="none" stroke="#1f78b4" stroke-width="1.3" stroke-linejoin="round"/>
<path d="M548.40,14.70L548.40,20.70M546.90,15.10L549.90,20.30M549.90,15.10L546.90,20.30" stroke="#1f78b4" stroke-width="0.7"/>
<path d="M589.61,77.39L589.61,83.39M588.11,77.79L591.11,82.99M591.11,77.79L588.11,82.99" stroke="#1f78b4" stroke-width="0.7"/>
<path d="M605.76,116.39L605.76,122.39M604.26,116.79L607.26,121.98M607.26,116.79L604.26,121.98" stroke="#1f78b4" stroke-width="0.7"/>
<path d="M577.89,143.53L577.89,149.53M576.39,143.93L579.39,149.13M579.39,143.93L576.39,149.13" stroke="#1f78b4" stroke-width="0.7"/>
<path d="M560.43,159.55L560.43,165.55M558.93,159.96L561.93,165.15M561.93,159.96L558.93,165.15" stroke="#1f78b4" stroke-width="0.7"/>
<path d="M536.46,159.30L536.46,165.30M534.96,159.70L537.96,164.89M537.96,159.70L534.96,164.89" stroke="#1f78b4" stroke-width="0.7"/>
<path d="M520.17,142.80L520.17,148.80M518.67,143.20L521.67,148.40M521.67,143.20L518.67,148.40" stroke="#1f78b4" stroke-width="0.7"/>
<path d="M516.32,120.84L516.32,126.84M514.82,121.24L517.82,126.44M517.82,121.24L514.82,126.44" stroke="#1f78b4" stroke-width="0.7"/>
<path d="M526.76,100.71L526.76,106.71M525.26,101.12L528.26,106.31M528.26,101.12L525.26,106.31" stroke="#1f78b4" stroke-width="0.7"/>
<text transform="translate(556.20 7.20) scale(1 1.08)" font-size="8.9" text-anchor="start" fill="#1a1a1a" stroke="#1a1a1a" stroke-width="0.12">Accumulated rainfall</text>
<text transform="translate(628.00 45.80) scale(1 1.08)" font-size="8.9" text-anchor="start" fill="#1a1a1a" stroke="#1a1a1a" stroke-width="0.12">Elevation</text>
<text transform="translate(663.40 118.50) scale(1 1.08)" font-size="8.9" text-anchor="start" fill="#1a1a1a" stroke="#1a1a1a" stroke-width="0.12">Strata</text>
<text transform="translate(662.20 195.50) scale(1 1.08)" font-size="8.9" text-anchor="start" fill="#1a1a1a" stroke="#1a1a1a" stroke-width="0.12">Slope</text>
<text transform="translate(575.50 200.00) scale(1 1.08)" font-size="8.9" text-anchor="start" fill="#1a1a1a" stroke="#1a1a1a" stroke-width="0.12">Distance to rivers</text>
<text transform="translate(521.00 199.50) scale(1 1.08)" font-size="8.9" text-anchor="start" fill="#1a1a1a" stroke="#1a1a1a" stroke-width="0.12">Aspect</text>
<text transform="translate(428.50 181.50) scale(1 1.08)" font-size="8.9" text-anchor="start" fill="#1a1a1a" stroke="#1a1a1a" stroke-width="0.12">Vegetation coverage</text>
<text transform="translate(416.70 101.60) scale(1 1.08)" font-size="8.9" text-anchor="start" fill="#1a1a1a" stroke="#1a1a1a" stroke-width="0.12">Topographic wetness index</text>
<text transform="translate(469.00 31.50) scale(1 1.08)" font-size="8.9" text-anchor="start" fill="#1a1a1a" stroke="#1a1a1a" stroke-width="0.12">Land cover</text>
<rect x="418" y="204.5" width="267" height="53" fill="#fff"/>
<polygon points="548.40,8.10 551.25,10.17 550.16,13.53 546.64,13.53 545.55,10.17" fill="#6a3d9a"/>
<line x1="426.8" y1="210.6" x2="445.9" y2="210.6" stroke="#a6cee3" stroke-width="1.3"/>
<rect x="434.00" y="208.30" width="4.6" height="4.6" fill="#a6cee3"/>
<text transform="translate(447.80 213.30) scale(1 1.08)" font-size="8.05" text-anchor="start" fill="#1a1a1a" stroke="#1a1a1a" stroke-width="0.12">KNeighborsDist</text>
<line x1="509.1" y1="210.6" x2="527.9" y2="210.6" stroke="#1f78b4" stroke-width="1.3"/>
<circle cx="518.50" cy="210.60" r="2.6" fill="#1f78b4"/>
<text transform="translate(529.80 213.30) scale(1 1.08)" font-size="8.05" text-anchor="start" fill="#1a1a1a" stroke="#1a1a1a" stroke-width="0.12">KNeighborsUnif</text>
<line x1="597.2" y1="210.6" x2="615.6" y2="210.6" stroke="#b2df8a" stroke-width="1.3"/>
<polygon points="606.40,207.60 609.20,212.60 603.60,212.60" fill="#b2df8a"/>
<text transform="translate(617.70 213.30) scale(1 1.08)" font-size="8.05" text-anchor="start" fill="#1a1a1a" stroke="#1a1a1a" stroke-width="0.12">CatBoost</text>
<line x1="426.8" y1="220.6" x2="445.9" y2="220.6" stroke="#33a02c" stroke-width="1.3"/>
<polygon points="436.30,223.60 439.10,218.60 433.50,218.60" fill="#33a02c"/>
<text transform="translate(447.80 223.30) scale(1 1.08)" font-size="8.05" text-anchor="start" fill="#1a1a1a" stroke="#1a1a1a" stroke-width="0.12">XGBoost</text>
<line x1="509.1" y1="220.6" x2="527.9" y2="220.6" stroke="#fb9a99" stroke-width="1.3"/>
<polygon points="518.50,217.80 520.70,220.60 518.50,223.40 516.30,220.60" fill="#fb9a99"/>
<text transform="translate(529.80 223.30) scale(1 1.08)" font-size="8.05" text-anchor="start" fill="#1a1a1a" stroke="#1a1a1a" stroke-width="0.12">RandomForestEntr</text>
<line x1="597.2" y1="220.6" x2="615.6" y2="220.6" stroke="#e31a1c" stroke-width="1.3"/>
<polygon points="603.40,220.60 608.40,217.80 608.40,223.40" fill="#e31a1c"/>
<text transform="translate(617.70 223.30) scale(1 1.08)" font-size="8.05" text-anchor="start" fill="#1a1a1a" stroke="#1a1a1a" stroke-width="0.12">RandomForestGini</text>
<line x1="426.8" y1="230.7" x2="445.9" y2="230.7" stroke="#fdbf6f" stroke-width="1.3"/>
<polygon points="439.30,230.70 434.30,227.90 434.30,233.50" fill="#fdbf6f"/>
<text transform="translate(447.80 233.40) scale(1 1.08)" font-size="8.05" text-anchor="start" fill="#1a1a1a" stroke="#1a1a1a" stroke-width="0.12">ExtraTreesGini</text>
<line x1="509.1" y1="230.7" x2="527.9" y2="230.7" stroke="#ff7f00" stroke-width="1.3"/>
<circle cx="518.50" cy="230.70" r="2.6" fill="#ff7f00"/>
<text transform="translate(529.80 233.40) scale(1 1.08)" font-size="8.05" text-anchor="start" fill="#1a1a1a" stroke="#1a1a1a" stroke-width="0.12">ExtraTreesEntr</text>
<line x1="597.2" y1="230.7" x2="615.6" y2="230.7" stroke="#cab2d6" stroke-width="1.3"/>
<polygon points="606.40,227.50 607.16,229.65 609.44,229.71 607.64,231.10 608.28,233.29 606.40,232.00 604.52,233.29 605.16,231.10 603.36,229.71 605.64,229.65" fill="#cab2d6"/>
<text transform="translate(617.70 233.40) scale(1 1.08)" font-size="8.05" text-anchor="start" fill="#1a1a1a" stroke="#1a1a1a" stroke-width="0.12">LightGBM</text>
<line x1="426.8" y1="240.8" x2="445.9" y2="240.8" stroke="#6a3d9a" stroke-width="1.3"/>
<polygon points="436.30,238.10 439.15,240.17 438.06,243.53 434.54,243.53 433.45,240.17" fill="#6a3d9a"/>
<text transform="translate(447.80 243.50) scale(1 1.08)" font-size="8.05" text-anchor="start" fill="#1a1a1a" stroke="#1a1a1a" stroke-width="0.12">LightGBMLarge</text>
<line x1="509.1" y1="240.8" x2="527.9" y2="240.8" stroke="#ffff99" stroke-width="1.3"/>
<circle cx="518.50" cy="240.80" r="2.6" fill="#ffff99"/>
<text transform="translate(529.80 243.50) scale(1 1.08)" font-size="8.05" text-anchor="start" fill="#1a1a1a" stroke="#1a1a1a" stroke-width="0.12">LightGBMXT</text>
<line x1="597.2" y1="240.8" x2="615.6" y2="240.8" stroke="#b15928" stroke-width="1.3"/>
<line x1="606.4" y1="237.8" x2="606.4" y2="243.8" stroke="#b15928" stroke-width="0.8"/>
<text transform="translate(617.70 243.50) scale(1 1.08)" font-size="8.05" text-anchor="start" fill="#1a1a1a" stroke="#1a1a1a" stroke-width="0.12">NeuralNetTorch</text>
<line x1="426.8" y1="250.9" x2="445.9" y2="250.9" stroke="#a6cee3" stroke-width="1.3"/>
<path d="M433.8,248.4L438.8,253.4M433.8,253.4L438.8,248.4" stroke="#a6cee3" stroke-width="0.7"/>
<text transform="translate(447.80 253.60) scale(1 1.08)" font-size="8.05" text-anchor="start" fill="#1a1a1a" stroke="#1a1a1a" stroke-width="0.12">NeuralNetFastAI</text>
<line x1="509.1" y1="250.9" x2="527.9" y2="250.9" stroke="#1f78b4" stroke-width="1.3"/>
<path d="M518.50,247.90L518.50,253.90M517.00,248.30L520.00,253.50M520.00,248.30L517.00,253.50" stroke="#1f78b4" stroke-width="0.7"/>
<text transform="translate(529.80 253.60) scale(1 1.08)" font-size="8.05" text-anchor="start" fill="#1a1a1a" stroke="#1a1a1a" stroke-width="0.12">WeightedEnsemble</text>
<text transform="translate(490.30 277.60) scale(1 1.08)" font-size="17.4" text-anchor="middle" fill="#111" stroke="#111" stroke-width="0.12">b</text>
</svg>
</body></html>
